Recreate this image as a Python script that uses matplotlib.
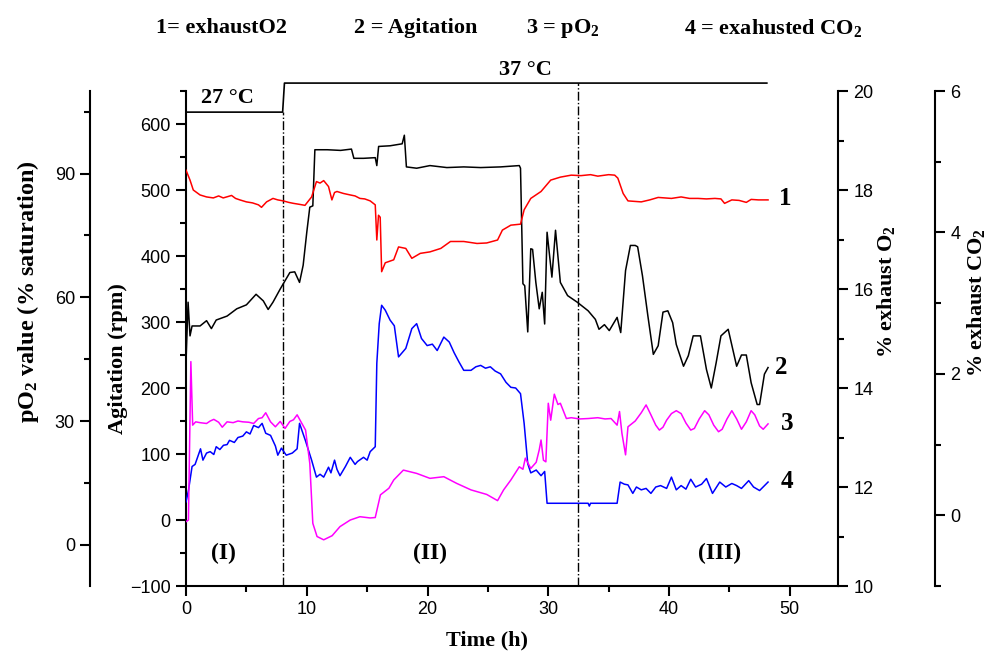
import matplotlib
matplotlib.use('Agg')
import matplotlib.pyplot as plt
import matplotlib.ticker as ticker
import numpy as np

# fonts: Times-like bold for labels, Arial-like for tick numbers
plt.rcParams['font.family'] = ['Liberation Serif', 'DejaVu Serif']
plt.rcParams['mathtext.fontset'] = 'custom'
plt.rcParams['mathtext.rm'] = 'Liberation Serif:bold'
plt.rcParams['mathtext.bf'] = 'Liberation Serif:bold'
plt.rcParams['mathtext.it'] = 'Liberation Serif:bold'
plt.rcParams['mathtext.default'] = 'bf'

# ---------------- data ----------------
# 1 = exhaust O2 (%), red
o2_t = [0, 0.33, 0.6, 1.16, 1.7, 2.26, 2.7, 3.08, 3.5, 3.77, 4.1, 4.46, 5.0, 5.5, 6.0, 6.25, 6.67, 7.2,
        7.6, 8.05, 8.5, 8.9, 9.4, 9.85, 10.4, 10.8, 11.1, 11.4, 11.8, 12.08, 12.3, 12.5, 13.04, 13.6,
        14.0, 14.4, 14.8, 15.25, 15.67, 15.8, 15.94, 16.08, 16.2, 16.5, 17.2, 17.6, 18.2, 18.7, 19.4,
        20.2, 21.1, 21.9, 23.0, 24.1, 24.9, 25.8, 26.2, 26.9, 27.7, 28.0, 28.55, 29.4, 30.2, 31.0,
        31.9, 32.7, 33.5, 34.1, 35.0, 35.5, 35.76, 36.2, 36.6, 37.7, 38.4, 39.1, 40.2, 41.0, 41.7,
        42.4, 43.1, 43.8, 44.3, 44.6, 45.2, 45.8, 46.4, 46.8, 47.4, 48.2]
o2_val = [18.40, 18.20, 18.00, 17.90, 17.86, 17.84, 17.88, 17.84, 17.87, 17.89, 17.83, 17.80, 17.76,
          17.74, 17.70, 17.65, 17.76, 17.83, 17.80, 17.78, 17.75, 17.73, 17.71, 17.69, 17.86, 18.17,
          18.14, 18.19, 18.07, 17.80, 17.95, 17.97, 17.93, 17.90, 17.88, 17.83, 17.82, 17.78, 17.70,
          16.99, 17.49, 17.45, 16.35, 16.53, 16.59, 16.85, 16.82, 16.62, 16.72, 16.75, 16.82, 16.96,
          16.96, 16.92, 16.93, 16.99, 17.19, 17.29, 17.31, 17.60, 17.83, 17.97, 18.20, 18.26, 18.30,
          18.29, 18.31, 18.28, 18.31, 18.30, 18.24, 17.93, 17.78, 17.76, 17.80, 17.85, 17.83, 17.86,
          17.83, 17.83, 17.82, 17.83, 17.82, 17.73, 17.80, 17.79, 17.75, 17.81, 17.80, 17.80]

# 2 = agitation (rpm), black
agit_t = [0, 0.17, 0.33, 0.5, 1.16, 1.7, 2.1, 2.5, 3.4, 4.2, 5.0, 5.8, 6.4, 6.8, 7.2, 7.8, 8.6, 9.0,
          9.4, 9.7, 10.0, 10.25, 10.5, 10.67, 11.7, 12.8, 13.7, 13.9, 14.7, 15.67, 15.8, 15.95, 16.9,
          17.9, 18.08, 18.25, 19.1, 20.2, 21.6, 23.0, 24.4, 26.05, 27.6, 27.7, 27.9, 28.05, 28.3,
          28.55, 28.7, 28.97, 29.25, 29.5, 29.7, 29.9, 30.3, 30.6, 31.0, 31.6, 32.4, 33.3, 33.9, 34.2,
          34.65, 35.05, 35.7, 36.0, 36.4, 36.8, 37.2, 37.4, 37.8, 38.25, 38.7, 39.1, 39.5, 39.9, 40.3,
          40.6, 41.2, 41.6, 42.0, 42.6, 43.1, 43.5, 43.9, 44.3, 44.9, 45.6, 46.0, 46.4, 46.8, 47.3,
          47.5, 47.9, 48.2]
agit_val = [241, 330, 279, 294, 294, 302, 290, 303, 309, 320, 326, 342, 332, 319, 330, 350, 375, 376,
            360, 386, 436, 474, 476, 561, 561, 560, 562, 548, 548, 549, 537, 566, 567, 570, 583, 535,
            533, 537, 534, 535, 534, 535, 537, 533, 358, 355, 285, 411, 410, 360, 320, 345, 297, 436,
            368, 439, 360, 340, 330, 317, 304, 289, 296, 287, 307, 284, 378, 416, 416, 414, 370, 309,
            251, 264, 315, 317, 299, 266, 233, 249, 279, 279, 228, 200, 238, 279, 289, 233, 250, 250,
            208, 175, 175, 221, 231]

# 3 = pO2 (% saturation), magenta
po2_t = [0, 0.2, 0.4, 0.55, 0.8, 1.16, 1.7, 2.0, 2.3, 2.7, 3.0, 3.4, 3.9, 4.3, 4.7, 5.2, 5.6, 6.0, 6.3,
         6.6, 7.0, 7.4, 7.8, 8.2, 8.6, 8.9, 9.2, 9.5, 9.9, 10.25, 10.5, 10.85, 11.4, 12.1, 12.75, 13.6,
         14.4, 15.25, 15.67, 16.1, 16.8, 17.2, 18.0, 19.1, 20.2, 21.35, 22.4, 23.6, 24.9, 25.8, 26.3,
         26.9, 27.6, 27.9, 28.1, 28.55, 29.0, 29.25, 29.4, 29.6, 29.8, 30.0, 30.2, 30.5, 30.8, 31.0,
         31.5, 31.9, 32.6, 33.3, 34.1, 34.7, 35.2, 35.7, 35.9, 36.1, 36.4, 36.6, 37.2, 37.7, 38.1,
         38.5, 38.9, 39.2, 39.5, 39.8, 40.2, 40.6, 41.0, 41.4, 41.8, 42.1, 42.5, 42.95, 43.3, 43.7,
         44.1, 44.4, 44.8, 45.2, 45.6, 46.0, 46.4, 46.8, 47.1, 47.5, 47.8, 48.2]
po2_val = [5.6, 6.0, 44.4, 29.0, 29.8, 29.6, 29.4, 30.0, 30.4, 29.7, 28.5, 29.8, 29.6, 30.0, 29.8, 29.7,
           29.4, 30.6, 30.8, 32.0, 29.8, 28.6, 29.9, 28.2, 29.9, 30.3, 31.5, 29.9, 27.8, 19.7, 5.2, 2.0,
           1.2, 2.2, 4.4, 6.0, 6.8, 6.5, 6.6, 12.1, 13.7, 15.7, 18.1, 17.3, 16.1, 16.5, 14.9, 13.3,
           12.2, 10.7, 13.3, 15.7, 18.9, 18.3, 21.0, 18.5, 20.0, 23.0, 25.4, 20.5, 20.1, 34.3, 30.2,
           36.5, 34.0, 34.3, 30.6, 30.8, 30.5, 30.6, 30.8, 30.5, 30.6, 29.0, 32.3, 27.0, 21.8, 28.6,
           30.0, 32.0, 33.9, 31.5, 29.0, 27.8, 28.5, 30.2, 31.8, 32.5, 31.8, 29.5, 27.8, 28.2, 30.5,
           32.5, 31.5, 29.0, 27.4, 28.0, 30.5, 32.5, 30.5, 28.0, 29.8, 32.5, 31.5, 28.8, 28.0, 29.3]

# 4 = exhausted CO2 (%), blue
co2_t = [0, 0.2, 0.5, 0.75, 1.2, 1.4, 1.7, 2.0, 2.3, 2.5, 2.8, 3.1, 3.4, 3.6, 4.0, 4.3, 4.7, 5.0, 5.3,
         5.6, 6.0, 6.3, 6.6, 7.0, 7.4, 7.6, 7.9, 8.3, 8.8, 9.2, 9.4, 9.9, 10.4, 10.8, 11.1, 11.4, 11.8,
         12.0, 12.3, 12.5, 12.75, 13.2, 13.6, 14.0, 14.2, 14.7, 15.0, 15.25, 15.67, 15.8, 16.0, 16.2,
         16.5, 16.9, 17.25, 17.6, 18.2, 18.7, 19.1, 19.5, 19.97, 20.4, 20.8, 21.35, 21.8, 22.2, 22.6,
         23.0, 23.6, 24.0, 24.4, 24.8, 25.2, 25.6, 26.05, 26.5, 26.9, 27.3, 27.7, 28.0, 28.3, 28.55,
         29.0, 29.4, 29.7, 29.9, 33.3, 33.4, 33.5, 35.7, 35.95, 36.3, 36.6, 37.0, 37.3, 37.7, 38.1,
         38.5, 38.9, 39.3, 39.8, 40.2, 40.6, 41.0, 41.4, 41.8, 42.2, 42.7, 43.1, 43.6, 44.2, 44.7,
         45.2, 45.6, 46.0, 46.6, 47.0, 47.5, 48.2]
co2_val = [0.19, 0.35, 0.69, 0.72, 0.94, 0.78, 0.88, 0.90, 0.86, 0.97, 0.93, 0.99, 1.00, 1.06, 1.03,
           1.10, 1.12, 1.18, 1.15, 1.27, 1.24, 1.30, 1.16, 1.13, 0.98, 0.85, 0.95, 0.85, 0.88, 0.94,
           1.30, 1.05, 0.78, 0.54, 0.58, 0.54, 0.68, 0.60, 0.78, 0.65, 0.56, 0.69, 0.82, 0.72, 0.76,
           0.82, 0.78, 0.90, 0.97, 2.15, 2.71, 2.97, 2.90, 2.76, 2.68, 2.24, 2.36, 2.64, 2.71, 2.50,
           2.40, 2.42, 2.33, 2.52, 2.45, 2.30, 2.17, 2.05, 2.05, 2.10, 2.12, 2.08, 2.10, 2.04, 2.00,
           1.88, 1.81, 1.80, 1.72, 1.30, 0.73, 0.60, 0.64, 0.56, 0.62, 0.17, 0.17, 0.13, 0.17, 0.17,
           0.47, 0.44, 0.43, 0.31, 0.40, 0.36, 0.38, 0.31, 0.40, 0.42, 0.38, 0.54, 0.36, 0.42, 0.37,
           0.51, 0.40, 0.44, 0.52, 0.31, 0.47, 0.40, 0.45, 0.42, 0.38, 0.49, 0.40, 0.35, 0.47]

# phases and temperature
phase_x = [8.0, 32.5]
temp_labels = ['27 \u00b0C', '37 \u00b0C']
phase_labels = ['(I)', '(II)', '(III)']
legend_texts = ['1= exhaustO2', '2 = Agitation', '3 = pO$_2$', '4 = exahusted CO$_2$']

# ---------------- figure ----------------
fig = plt.figure(figsize=(9.89, 6.58), dpi=100)
ax = fig.add_axes([0.1881, 0.1094, 0.6593, 0.7523])
ax_o2 = ax.twinx()
ax_co2 = ax.twinx()
ax_p = ax.twinx()

lw = 1.1
ax.plot(agit_t, agit_val, color='black', lw=lw)
ax_o2.plot(o2_t, o2_val, color='red', lw=lw)
ax_p.plot(po2_t, po2_val, color='magenta', lw=lw)
ax_co2.plot(co2_t, co2_val, color='blue', lw=lw)

ax.set_xlim(0, 54)
ax.set_ylim(-100, 650)
ax_o2.set_ylim(10, 20)
ax_co2.set_ylim(-1, 6)
ax_p.set_ylim(-10, 110)

# spines
spine_w = 1.5
for a in [ax, ax_o2, ax_co2, ax_p]:
    for s in a.spines.values():
        s.set_visible(False)
        s.set_linewidth(spine_w)
ax.spines['left'].set_visible(True)
ax.spines['bottom'].set_visible(True)
ax_o2.spines['right'].set_visible(True)
ax_co2.spines['right'].set_visible(True)
ax_co2.spines['right'].set_position(('axes', 1.149))
ax_p.spines['left'].set_visible(True)
ax_p.spines['left'].set_position(('axes', -0.147))
ax_p.yaxis.set_ticks_position('left')
ax_p.yaxis.set_label_position('left')

# ticks
ax.xaxis.set_major_locator(ticker.MultipleLocator(10))
ax.xaxis.set_minor_locator(ticker.MultipleLocator(5))
ax.yaxis.set_major_locator(ticker.FixedLocator(np.arange(-100, 601, 100)))
ax.yaxis.set_minor_locator(ticker.FixedLocator(np.arange(-50, 651, 100)))
ax_o2.yaxis.set_major_locator(ticker.MultipleLocator(2))
ax_o2.yaxis.set_minor_locator(ticker.MultipleLocator(1))
ax_co2.yaxis.set_major_locator(ticker.FixedLocator([0, 2, 4, 6]))
ax_co2.yaxis.set_minor_locator(ticker.FixedLocator([-1, 1, 3, 5]))
ax_p.yaxis.set_major_locator(ticker.FixedLocator([0, 30, 60, 90]))
ax_p.yaxis.set_minor_locator(ticker.FixedLocator([15, 45, 75, 105]))

tick_font = 'Liberation Sans'
for a in [ax, ax_o2, ax_co2, ax_p]:
    a.tick_params(which='major', direction='out', length=7, width=1.5, labelsize=13, pad=4)
    a.tick_params(which='minor', direction='out', length=4, width=1.5)
    for lab in a.get_xticklabels() + a.get_yticklabels():
        lab.set_fontfamily(tick_font)
ax_o2.tick_params(axis='x', which='both', bottom=False, top=False, labelbottom=False)

# axis labels
lab_kw = dict(fontsize=16, fontweight='bold')
ax.set_xlabel('Time (h)', **lab_kw)
ax.xaxis.set_label_coords(0.462, -0.09)
ax.set_ylabel('Agitation (rpm)', **lab_kw)
ax.yaxis.set_label_coords(-0.089, 0.46)
ax_p.set_ylabel('pO$_2$ value (% saturation)', fontsize=17.5, fontweight='bold')
ax_p.yaxis.set_label_coords(-0.222, 0.594)
ax_o2.set_ylabel('% exhaust O$_2$', **lab_kw)
ax_o2.yaxis.set_label_coords(1.057, 0.594)
ax_co2.set_ylabel('% exhaust CO$_2$', **lab_kw)
ax_co2.yaxis.set_label_coords(1.195, 0.572)

# temperature step line above the plot and phase separators
ax.plot([0, phase_x[0], phase_x[0] + 0.15, 48.1], [618, 618, 662, 662], color='black', lw=1.2, clip_on=False)
ax.plot([phase_x[0], phase_x[0]], [-100, 618], color='black', lw=1.0, ls='-.', clip_on=False)
ax.plot([phase_x[1], phase_x[1]], [-100, 662], color='black', lw=1.0, ls='-.', clip_on=False)

txt_kw = dict(fontweight='bold', ha='center', va='center')
ax.text(3.45, 640, temp_labels[0], fontsize=16, **txt_kw)
ax.text(28.1, 682, temp_labels[1], fontsize=16, clip_on=False, **txt_kw)
ax.text(3.1, -50, phase_labels[0], fontsize=17, **txt_kw)
ax.text(20.2, -50, phase_labels[1], fontsize=17, **txt_kw)
ax.text(44.2, -50, phase_labels[2], fontsize=17, **txt_kw)

# curve numbers at the right end
ax.text(49.6, 487, '1', fontsize=18, **txt_kw)
ax.text(49.3, 231, '2', fontsize=18, **txt_kw)
ax.text(49.8, 146, '3', fontsize=18, **txt_kw)
ax.text(49.8, 59, '4', fontsize=18, **txt_kw)

# legend line at the top
leg_x = [0.2235, 0.42, 0.569, 0.782]
for xx, s in zip(leg_x, legend_texts):
    fig.text(xx, 0.957, s, fontsize=16, **txt_kw)

plt.savefig('out.png', dpi=100)
plt.close()
